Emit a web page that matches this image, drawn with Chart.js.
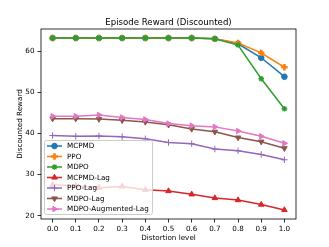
<!DOCTYPE html>
<html>
<head>
<meta charset="utf-8">
<script src="https://cdn.jsdelivr.net/npm/chart.js@4"></script>
<style>
  html, body { margin: 0; padding: 0; background: #fff; }
  #wrap { width: 329px; height: 247px; }
</style>
</head>
<body>
<div id="wrap"><canvas id="lineChart" width="329" height="247"></canvas></div>
<script>
var distortion = [0.0, 0.1, 0.2, 0.3, 0.4, 0.5, 0.6, 0.7, 0.8, 0.9, 1.0];
var xTicks = [0.0, 0.1, 0.2, 0.3, 0.4, 0.5, 0.6, 0.7, 0.8, 0.9, 1.0];
var yTicks = [20, 30, 40, 50, 60];

var mcpmd = [63.2, 63.2, 63.2, 63.2, 63.2, 63.2, 63.2, 63.0, 61.8, 58.4, 53.8];
var ppo = [63.2, 63.2, 63.2, 63.2, 63.2, 63.2, 63.2, 63.0, 62.0, 59.6, 56.1];
var mdpo = [63.2, 63.2, 63.2, 63.2, 63.2, 63.2, 63.2, 63.0, 61.5, 53.3, 46.0];
var mcpmdLag = [27.5, 27.3, 26.8, 27.1, 26.3, 26.0, 25.2, 24.3, 23.8, 22.7, 21.4];
var ppoLag = [39.5, 39.3, 39.4, 39.2, 38.7, 37.8, 37.5, 36.2, 35.8, 34.9, 33.6];
var mdpoLag = [43.6, 43.6, 43.5, 43.2, 42.8, 42.1, 41.1, 40.4, 39.0, 38.0, 36.4];
var mdpoAugLag = [44.2, 44.2, 44.5, 43.9, 43.4, 42.4, 41.9, 41.6, 40.6, 39.3, 37.6];

var FONT = "'DejaVu Sans', sans-serif";

function series(label, values, color, style, radius, rotation, bw) {
  return {
    label: label,
    data: values.map(function (v, i) { return { x: distortion[i], y: v }; }),
    borderColor: color,
    backgroundColor: color,
    borderWidth: 1.5,
    pointStyle: style,
    pointRadius: radius,
    pointRotation: rotation || 0,
    pointBorderWidth: bw || 1,
    pointBackgroundColor: color,
    pointBorderColor: color,
    tension: 0,
    fill: false,
  };
}

var datasets = [
  series("MCPMD", mcpmd, "#1f77b4", "circle", 2.8),
  series("PPO", ppo, "#ff7f0e", "cross", 3.2, 0, 2.6),
  series("MDPO", mdpo, "#2ca02c", "star", 2.8, 0, 1.4),
  series("MCPMD-Lag", mcpmdLag, "#d62728", "triangle", 3.2),
  series("PPO-Lag", ppoLag, "#9467bd", "cross", 3.2, 0, 1),
  series("MDPO-Lag", mdpoLag, "#8c564b", "triangle", 3.2, 180),
  series("MDPO-Augmented-Lag", mdpoAugLag, "#e377c2", "triangle", 3.2, 90),
];
datasets.forEach(function (d, i) { d.order = datasets.length - i; });

var framePlugin = {
  id: "frame",
  afterDraw: function (chart) {
    var ctx = chart.ctx, a = chart.chartArea;
    ctx.save();

    // legend box
    var lx = 44.5, ly = 140.5, lw = 108, lh = 74;
    ctx.globalAlpha = 0.8;
    ctx.fillStyle = "#fff";
    ctx.beginPath();
    ctx.roundRect(lx, ly, lw, lh, 2);
    ctx.fill();
    ctx.globalAlpha = 1;
    ctx.strokeStyle = "#cccccc";
    ctx.lineWidth = 1;
    ctx.stroke();

    ctx.font = "7.2px " + FONT;
    ctx.textBaseline = "middle";
    ctx.textAlign = "left";
    chart.data.datasets.forEach(function (d, i) {
      var y = 146 + i * 10.5;
      ctx.strokeStyle = d.borderColor;
      ctx.lineWidth = 1.5;
      ctx.beginPath();
      ctx.moveTo(47, y);
      ctx.lineTo(62, y);
      ctx.stroke();
      ctx.fillStyle = d.pointBackgroundColor;
      ctx.strokeStyle = d.pointBorderColor;
      ctx.lineWidth = d.pointBorderWidth;
      Chart.helpers.drawPoint(ctx, {
        pointStyle: d.pointStyle,
        radius: d.pointRadius,
        rotation: d.pointRotation,
        borderWidth: d.pointBorderWidth,
      }, 54.5, y);
      ctx.fillStyle = "#000";
      ctx.fillText(d.label, 67, y + 0.5);
    });

    // axes frame
    ctx.strokeStyle = "#000";
    ctx.lineWidth = 0.8;
    ctx.strokeRect(a.left, a.top, a.right - a.left, a.bottom - a.top);

    // title
    ctx.fillStyle = "#000";
    ctx.font = "8.6px " + FONT;
    ctx.textAlign = "center";
    ctx.textBaseline = "middle";
    ctx.fillText("Episode Reward (Discounted)", (a.left + a.right) / 2, 22.5);
    ctx.restore();
  },
};

var ctx = document.getElementById("lineChart").getContext("2d");
var myChart = new Chart(ctx, {
  type: "line",
  data: { datasets: datasets },
  options: {
    responsive: false,
    animation: false,
    events: [],
    layout: { padding: { top: 29, right: 33, left: 0, bottom: 0 } },
    plugins: {
      legend: { display: false },
      tooltip: { enabled: false },
    },
    scales: {
      x: {
        type: "linear",
        min: -0.05,
        max: 1.05,
        afterBuildTicks: function (s) { s.ticks = xTicks.map(function (v) { return { value: v }; }); },
        afterFit: function (s) { s.height = 28; },
        ticks: {
          color: "#000",
          font: { family: FONT, size: 7.2 },
          padding: 2,
          maxRotation: 0,
          autoSkip: false,
          callback: function (v) { return v.toFixed(1); },
        },
        grid: { drawOnChartArea: false, tickLength: 3.5, color: "#000", lineWidth: 0.8 },
        border: { display: false },
        title: {
          display: true,
          text: "Distortion level",
          color: "#000",
          font: { family: FONT, size: 7.2 },
          padding: { top: 5, bottom: 5 },
        },
      },
      y: {
        type: "linear",
        min: 19.2,
        max: 65.4,
        afterBuildTicks: function (s) { s.ticks = yTicks.map(function (v) { return { value: v }; }); },
        afterFit: function (s) { s.width = 41; },
        ticks: {
          color: "#000",
          font: { family: FONT, size: 7.2 },
          padding: 3,
        },
        grid: { drawOnChartArea: false, tickLength: 3.5, color: "#000", lineWidth: 0.8 },
        border: { display: false },
        title: {
          display: true,
          text: "Discounted Reward",
          color: "#000",
          font: { family: FONT, size: 7.2 },
          padding: { top: 15.5, bottom: 15.5 },
        },
      },
    },
  },
  plugins: [framePlugin],
});
</script>
</body>
</html>
